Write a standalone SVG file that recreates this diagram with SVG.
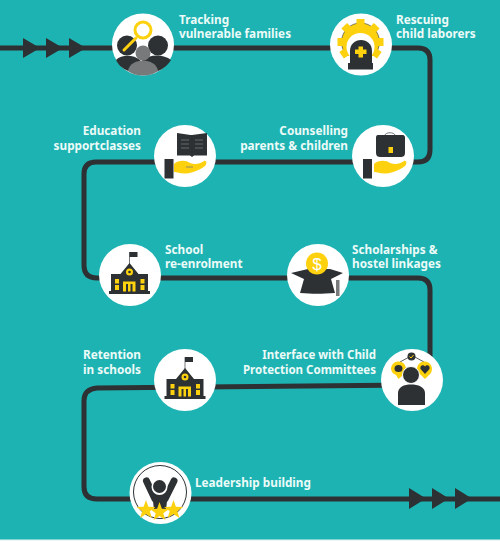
<svg xmlns="http://www.w3.org/2000/svg" width="500" height="541" viewBox="0 0 500 541">
<style>
.t{font-family:"Noto Sans","Open Sans",sans-serif;font-weight:700;font-size:11.750px;fill:#ecfbf8}
.e{text-anchor:end}
.n{fill:#fff}
.d{fill:#2d3133}
.y{fill:#fdd10e}
.g{fill:#77797b}
.c{fill:none;stroke:#2d3133;stroke-width:5}
</style>
<defs>
<path id="hand" class="y" d="M-11 4C-7 0 1 0 5 3C10 5 15 4 19 1C22 0 22 4 20 6C15 10 7 13 1 13.500C-4 14-8 12-11 12Z"/>
<path id="star" class="y" d="M0-10L2.400-3.200L9.500-3.100L3.800 1.200L5.900 8.100L0 4L-5.900 8.100L-3.800 1.200L-9.500-3.100L-2.400-3.200Z"/>
<rect id="tooth" class="y" x="-4" y="-23" width="8" height="6"/>
<g id="school">
<rect class="g" x="-.5" y="-29" width="1" height="14"/>
<rect class="d" x="0" y="-29" width="8" height="5"/>
<path class="d" d="M-18.500 11V-7H-9L0-18L9-7H18.500V11Z"/>
<rect class="d" x="-20.500" y="10" width="41" height="3"/>
<circle class="y" cx="0" cy="-9" r="3.500"/><circle class="d" cx="0" cy="-9" r="1.300"/>
<path class="y" d="M-6.500 10.500V.5H6V10.500H3V3H1V10.500H-1.500V3H-3.500V10.500Z"/>
<rect class="y" x="-14.500" y="-2" width="4" height="4.500"/><rect class="y" x="-14.500" y="4" width="4" height="5"/>
<rect class="y" x="11" y="-2" width="4" height="4.500"/><rect class="y" x="11" y="4" width="4" height="5"/>
</g>
</defs>
<rect width="500" height="541" fill="#1eb3b3"/>
<rect y="539.500" width="500" height="1.500" fill="#e8f6f5"/>

<g id="connectors">
<path class="c" d="M0 48L418 48Q430 48 430 60L430 150Q430 162 418 162L96 162Q84 162 84 174L84 265Q84 278 97 278L418 278Q430 278 430 290V380"/>
<path class="c" d="M412 385L97 388Q84 389 84 401L84 487Q84 499 97 499L500 499"/>
<path class="d" d="M23 38L40 48L23 58ZM46 38L63 48L46 58ZM69 38L86 48L69 58Z"/>
<path class="d" d="M409 488L426 498.500L409 509ZM432 488L449 498.500L432 509ZM455 488L472 498.500L455 509Z"/>
</g>

<g id="node-tracking">
<circle class="n" cx="143" cy="44.500" r="31"/>
<circle class="d" cx="127" cy="45.500" r="10"/><circle class="d" cx="158" cy="45.500" r="10"/>
<path class="d" d="M116 60C122 54 134 55 140 60L145 68L132 72C124 70 119 66 116 60ZM142 60C150 54 164 54 171 60C167 66 162 70 155 72L145 68Z"/>
<circle class="g" cx="143" cy="53" r="7.500"/>
<path class="g" d="M128 71C129 64 136 60.500 143 60.500C150 60.500 157 64 158 71C154 74 149 75.500 143 75.500C137 75.500 132 74 128 71Z"/>
<circle cx="143" cy="30" r="8" fill="#fff" stroke="#fdd10e" stroke-width="3"/>
<path d="M136 38L124 50" stroke="#fdd10e" stroke-width="3" stroke-linecap="round"/>
</g>

<g id="node-rescuing">
<circle class="n" cx="361" cy="44.500" r="31"/>
<circle class="y" cx="360.500" cy="42" r="19" stroke="#2d3133" stroke-width=".6"/>
<use href="#tooth" transform="translate(360.500 42)"/>
<use href="#tooth" transform="translate(360.500 42) rotate(45)"/>
<use href="#tooth" transform="translate(360.500 42) rotate(-45)"/>
<use href="#tooth" transform="translate(360.500 42) rotate(90)"/>
<use href="#tooth" transform="translate(360.500 42) rotate(-90)"/>
<use href="#tooth" transform="translate(360.500 42) rotate(125)"/>
<use href="#tooth" transform="translate(360.500 42) rotate(-125)"/>
<circle class="n" cx="360.500" cy="47" r="14"/>
<rect class="n" x="347" y="56" width="27" height="8"/>
<path class="d" d="M350 64V51C350 44 355 40 361 40C367 40 372 44 372 51V64Z"/>
<rect class="d" x="348" y="63" width="25" height="6.500"/>
<path class="y" d="M358.500 46.500H363V49.500H366.500V54H363V57.500H358.500V54H355V49.500H358.500Z"/>
</g>

<g id="node-education">
<circle class="n" cx="185" cy="156" r="31"/>
<path class="d" d="M177 133L190.500 135L192 135L207 133V155.500L194 155.500L192 157L190 155.500L177 155.500Z"/>
<path d="M181 140H189M181 144H189M181 148H189M195 140H203M195 144H203M195 148H203" stroke="#77797b" stroke-width=".8"/>
<rect class="d" x="164.500" y="159" width="9" height="19.500"/>
<use href="#hand" x="185" y="160"/>
<path d="M186 167H193" stroke="#77797b" stroke-width=".8"/>
</g>

<g id="node-counselling">
<circle class="n" cx="383" cy="156" r="31"/>
<path d="M385 135C386 132 394 132 395 135" fill="none" stroke="#77797b" stroke-width="1"/>
<path class="d" d="M378 135H402C405 135 405 137 405 138V153C405 156 403 157 401 157H380C378 157 376 156 376 153V138C376 137 376 135 378 135Z"/>
<rect class="y" x="388.500" y="147" width="4.500" height="6"/>
<rect class="d" x="363" y="159" width="9" height="19.500"/>
<use href="#hand" x="385" y="160"/>
</g>

<g id="node-reenrol">
<circle class="n" cx="130" cy="275" r="31"/>
<use href="#school" x="129.500" y="281"/>
</g>

<g id="node-scholarships">
<circle class="n" cx="318" cy="275" r="31"/>
<path class="d" d="M291 273L308 269H330L343 273L331 279L335 293C322 294 312 294 300 293L304 279Z"/>
<rect class="g" x="336" y="280" width="3.500" height="16"/>
<circle class="y" cx="317" cy="263.500" r="11"/>
<text x="317" y="269.500" text-anchor="middle" style="font-family:'Liberation Sans',sans-serif;font-size:17px;fill:#fff">$</text>
</g>

<g id="node-interface">
<circle class="n" cx="412" cy="380" r="31"/>
<path d="M400 362L411 356M424 362L413 356" stroke="#2d3133" stroke-width=".8"/>
<circle class="d" cx="411.500" cy="356.500" r="4"/>
<path d="M409.500 356.500L411 358L413.500 355" fill="none" stroke="#fdd10e" stroke-width="1"/>
<path class="y" d="M391 369A7.500 7.500 0 1 1 403 375L398.500 379L396 375A7.500 7.500 0 0 1 391 369Z"/>
<path class="y" d="M417 369A7.500 7.500 0 1 1 429 375L425 379L421 375A7.500 7.500 0 0 1 417 369Z"/>
<ellipse class="d" cx="398.500" cy="368.500" rx="4" ry="3.500"/>
<path class="d" d="M425 374L420.500 369C419.500 365 423.500 364 425 366.500C426.500 364 430.500 365 429.500 369Z"/>
<circle class="d" cx="411" cy="375" r="8.500" stroke="#fff" stroke-width="1"/>
<path class="d" d="M398 405V393C398 387 404 384.500 411 384.500C418 384.500 425 387 425 393V405Z"/>
</g>

<g id="node-retention">
<circle class="n" cx="185" cy="380" r="31"/>
<use href="#school" x="185" y="386"/>
</g>

<g id="node-leadership">
<circle class="n" cx="160.500" cy="493" r="31"/>
<circle cx="160" cy="492" r="26.500" fill="none" stroke="#2d3133" stroke-width="1"/>
<path d="M146.500 481L155 499M174 481L165 499" stroke="#2d3133" stroke-width="7" stroke-linecap="round"/>
<path class="d" d="M152 492H168L166 510H154Z"/>
<circle class="n" cx="159.500" cy="487" r="8"/>
<circle class="d" cx="159.500" cy="486.500" r="6.500"/>
<use href="#star" x="146" y="510"/>
<use href="#star" x="173.500" y="510"/>
<use href="#star" x="159.500" y="512"/>
</g>

<text class="t" x="179" y="24">Tracking<tspan x="179" y="38">vulnerable families</tspan></text>
<text class="t" x="396" y="24">Rescuing<tspan x="396" y="38">child laborers</tspan></text>
<text class="t e" x="141" y="135">Education<tspan x="141" y="150">supportclasses</tspan></text>
<text class="t e" x="348" y="135">Counselling<tspan x="348" y="150">parents &amp; children</tspan></text>
<text class="t" x="165" y="254">School<tspan x="165" y="268">re-enrolment</tspan></text>
<text class="t" x="352" y="254">Scholarships &amp;<tspan x="352" y="268">hostel linkages</tspan></text>
<text class="t e" x="141" y="359">Retention<tspan x="141" y="374">in schools</tspan></text>
<text class="t e" x="376" y="359" style="font-size:11.500px">Interface with Child<tspan x="376" y="374">Protection Committees</tspan></text>
<text class="t" x="195" y="487">Leadership building</text>
</svg>
